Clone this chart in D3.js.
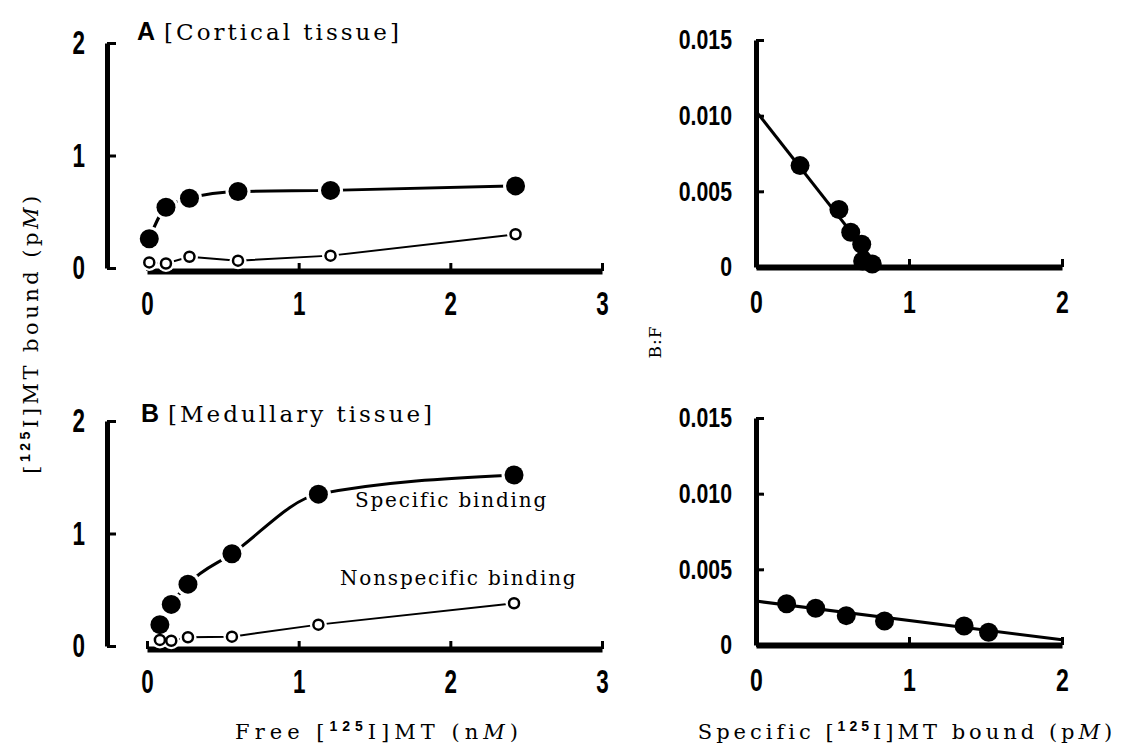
<!DOCTYPE html>
<html>
<head>
<meta charset="utf-8">
<script src="https://cdn.jsdelivr.net/npm/d3@7"></script>
<style>
  body { margin: 0; background: #fff; }
  svg { display: block; }
</style>
</head>
<body>
<div id="chart"></div>
<script>
// saturation data, free [125I]MT (nM) vs bound (pM)
var freeA = [0.015, 0.125, 0.28, 0.6, 1.21, 2.43];
var specA = [0.26, 0.54, 0.62, 0.68, 0.69, 0.73];
var nonspecA = [0.05, 0.04, 0.10, 0.065, 0.11, 0.30];

var freeB = [0.085, 0.16, 0.27, 0.56, 1.13, 2.42];
var specB = [0.19, 0.37, 0.55, 0.82, 1.35, 1.52];
var nonspecB = [0.054, 0.047, 0.078, 0.083, 0.19, 0.38];

// Scatchard data, specific bound (pM) vs B:F
var boundA = [0.288, 0.542, 0.619, 0.691, 0.697, 0.76];
var bfA = [0.0067, 0.0038, 0.0023, 0.0015, 0.0004, 0.0002];
var fitA = [[0, 0.0103], [0.80, 0]];

var boundB = [0.2, 0.39, 0.59, 0.84, 1.36, 1.52];
var bfB = [0.00272, 0.00243, 0.00194, 0.00159, 0.00126, 0.00084];
var fitB = [[0, 0.0029], [2, 0.00035]];

var satXTicks = [0, 1, 2, 3];
var satYTicks = [0, 1, 2];
var scXTicks = [0, 1, 2];
var scYTicks = [0, 0.005, 0.010, 0.015];

var serif = "'DejaVu Serif', serif";
var digits = "'Liberation Sans', Arial, sans-serif";
var sans = "'Liberation Sans', Arial, sans-serif";

var svg = d3.select("#chart")
  .append("svg")
    .attr("width", 1121)
    .attr("height", 744);

svg.append("rect").attr("width", 1121).attr("height", 744).attr("fill", "#fff");

function zip(xs, ys) {
  return xs.map(function(d, i) { return [d, ys[i]]; });
}

// condensed bold tick labels (squeezed horizontally)
function styleTicks(g, size, sx) {
  g.select(".domain").attr("stroke", "#000");
  g.selectAll(".tick line").attr("stroke", "#000").attr("stroke-width", 3);
  g.selectAll(".tick text")
    .attr("fill", "#000")
    .style("font-family", digits)
    .style("font-weight", "bold")
    .style("font-size", size + "px")
    .attr("transform", "scale(" + sx + ",1)");
}

function saturationPanel(top, free, spec, nonspec) {
  var x = d3.scaleLinear().domain([0, 3]).range([147, 602]);
  var y = d3.scaleLinear().domain([0, 2]).range([top + 225, top]);

  // Y axis
  var gy = svg.append("g")
    .attr("transform", "translate(107,0)")
    .call(d3.axisLeft(y).tickValues(satYTicks).tickFormat(d3.format("d"))
      .tickSizeInner(-9).tickSizeOuter(0).tickPadding(22 / 0.68));
  gy.select(".domain").attr("stroke-width", 5);
  styleTicks(gy, 33, 0.68);

  // X axis, drawn a bit below the zero level like the original
  var gx = svg.append("g")
    .attr("transform", "translate(0," + (y(0) + 3) + ")")
    .call(d3.axisBottom(x).tickValues(satXTicks).tickFormat(d3.format("d"))
      .tickSizeInner(-8).tickSizeOuter(0).tickPadding(21));
  gx.select(".domain").attr("stroke-width", 6);
  styleTicks(gx, 33, 0.68);

  var line = d3.line()
    .x(function(d) { return x(d[0]); })
    .y(function(d) { return y(d[1]); });

  svg.append("path")
    .datum(zip(free, spec))
    .attr("fill", "none")
    .attr("stroke", "#000")
    .attr("stroke-width", 3)
    .attr("d", line.curve(d3.curveMonotoneX));

  svg.append("path")
    .datum(zip(free, nonspec))
    .attr("fill", "none")
    .attr("stroke", "#000")
    .attr("stroke-width", 2)
    .attr("d", line.curve(d3.curveLinear));

  // white gaps round the markers
  svg.append("g").selectAll("circle")
    .data(zip(free, spec))
    .join("circle")
      .attr("cx", function(d) { return x(d[0]); })
      .attr("cy", function(d) { return y(d[1]); })
      .attr("r", 12.5)
      .attr("fill", "#fff");
  svg.append("g").selectAll("circle")
    .data(zip(free, nonspec))
    .join("circle")
      .attr("cx", function(d) { return x(d[0]); })
      .attr("cy", function(d) { return y(d[1]); })
      .attr("r", 8.5)
      .attr("fill", "#fff");

  svg.append("g").selectAll("circle")
    .data(zip(free, spec))
    .join("circle")
      .attr("cx", function(d) { return x(d[0]); })
      .attr("cy", function(d) { return y(d[1]); })
      .attr("r", 9.5)
      .attr("fill", "#000");
  svg.append("g").selectAll("circle")
    .data(zip(free, nonspec))
    .join("circle")
      .attr("cx", function(d) { return x(d[0]); })
      .attr("cy", function(d) { return y(d[1]); })
      .attr("r", 5)
      .attr("fill", "#fff")
      .attr("stroke", "#000")
      .attr("stroke-width", 2.5);
}

function scatchardPanel(top, bound, bf, fit) {
  var x = d3.scaleLinear().domain([0, 2]).range([756, 1062]);
  var y = d3.scaleLinear().domain([0, 0.015]).range([top + 227, top]);
  var fmt = function(d) { return d === 0 ? "0" : d3.format(".3f")(d); };

  var gy = svg.append("g")
    .attr("transform", "translate(756,0)")
    .call(d3.axisLeft(y).tickValues(scYTicks).tickFormat(fmt)
      .tickSizeInner(-8).tickSizeOuter(0).tickPadding(24 / 0.76));
  gy.select(".domain").attr("stroke-width", 5);
  styleTicks(gy, 28, 0.76);

  var gx = svg.append("g")
    .attr("transform", "translate(0," + y(0) + ")")
    .call(d3.axisBottom(x).tickValues(scXTicks).tickFormat(d3.format("d"))
      .tickSizeInner(-8).tickSizeOuter(0).tickPadding(23));
  gx.select(".domain").attr("stroke-width", 6);
  styleTicks(gx, 32, 0.72);

  svg.append("path")
    .datum(fit)
    .attr("fill", "none")
    .attr("stroke", "#000")
    .attr("stroke-width", 3)
    .attr("d", d3.line()
      .x(function(d) { return x(d[0]); })
      .y(function(d) { return y(d[1]); }));

  svg.append("g").selectAll("circle")
    .data(zip(bound, bf))
    .join("circle")
      .attr("cx", function(d) { return x(d[0]); })
      .attr("cy", function(d) { return y(d[1]); })
      .attr("r", 9.5)
      .attr("fill", "#000");
}

saturationPanel(43, freeA, specA, nonspecA);
saturationPanel(421, freeB, specB, nonspecB);
scatchardPanel(40, boundA, bfA, fitA);
scatchardPanel(418, boundB, bfB, fitB);

// panel titles
function panelTitle(px, py, letter, label) {
  var t = svg.append("text").attr("x", px).attr("y", py).attr("fill", "#000");
  t.append("tspan").text(letter)
    .style("font-family", sans).style("font-weight", "bold").style("font-size", "25px");
  t.append("tspan").attr("dx", 9).text(label)
    .style("font-family", serif).style("font-size", "23px").style("letter-spacing", "3px");
}
panelTitle(137, 40, "A", "[Cortical  tissue]");
panelTitle(141, 422, "B", "[Medullary  tissue]");

svg.append("text").attr("x", 355).attr("y", 507)
  .style("font-family", serif).style("font-size", "20px").style("letter-spacing", "1.8px")
  .text("Specific  binding");
svg.append("text").attr("x", 340).attr("y", 585)
  .style("font-family", serif).style("font-size", "20px").style("letter-spacing", "1.8px")
  .text("Nonspecific  binding");

// axis titles with the 125 superscript
function isoLabel(t, before, after, unit) {
  t.append("tspan").text(before + "[");
  t.append("tspan").attr("dy", -8).text("125")
    .style("font-family", sans).style("font-weight", "bold").style("font-size", "14px");
  t.append("tspan").attr("dy", 8).text("I]MT" + after + " (" + unit);
  t.append("tspan").text("M").style("font-style", "italic");
  t.append("tspan").text(")");
}

var yTitle = svg.append("text")
  .attr("transform", "translate(38,333) rotate(-90)")
  .attr("text-anchor", "middle")
  .style("font-family", serif).style("font-size", "21px").style("letter-spacing", "3.5px");
isoLabel(yTitle, "", "  bound ", "p");

svg.append("text")
  .attr("transform", "translate(661,342) rotate(-90)")
  .attr("text-anchor", "middle")
  .style("font-family", serif).style("font-size", "17px").style("letter-spacing", "1px")
  .text("B:F");

var xTitle1 = svg.append("text")
  .attr("x", 379).attr("y", 739)
  .attr("text-anchor", "middle")
  .style("font-family", serif).style("font-size", "21px").style("letter-spacing", "5px");
isoLabel(xTitle1, "Free  ", " ", "n");

var xTitle2 = svg.append("text")
  .attr("x", 907).attr("y", 739)
  .attr("text-anchor", "middle")
  .style("font-family", serif).style("font-size", "21px").style("letter-spacing", "4px");
isoLabel(xTitle2, "Specific ", " bound", "p");
</script>
</body>
</html>
